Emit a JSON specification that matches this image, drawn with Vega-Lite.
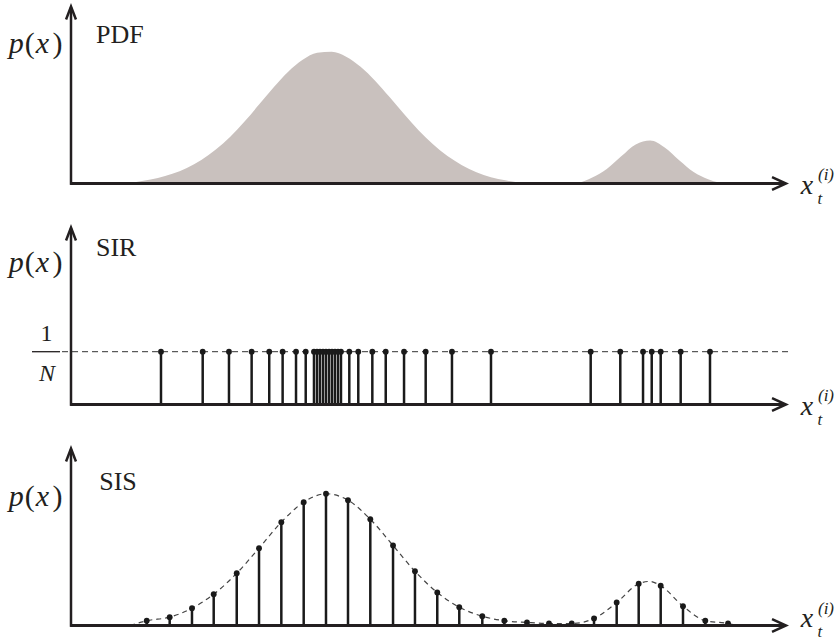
{
  "$schema": "https://vega.github.io/schema/vega-lite/v6.json",
  "padding": 0,
  "background": "white",
  "spacing": 23,
  "bounds": "flush",
  "config": {
    "view": {"stroke": null},
    "axis": {"disable": true},
    "text": {"font": "Liberation Serif, Times New Roman, DejaVu Serif, serif", "color": "#231f20", "align": "center", "baseline": "alphabetic"},
    "point": {"opacity": 1},
    "style": {
      "rm": {"font": "Liberation Serif, Times New Roman, DejaVu Serif, serif", "fontStyle": "normal"},
      "it": {"font": "Liberation Serif, Times New Roman, DejaVu Serif, serif", "fontStyle": "italic"}
    }
  },
  "datasets": {
    "pdf": [
      {"x": 8, "p": 0}, {"x": 10, "p": 0.02}, {"x": 12, "p": 0.042}, {"x": 14, "p": 0.073}, {"x": 16, "p": 0.117},
      {"x": 18, "p": 0.178}, {"x": 20, "p": 0.258}, {"x": 22, "p": 0.355}, {"x": 24, "p": 0.472}, {"x": 26, "p": 0.6},
      {"x": 28, "p": 0.73}, {"x": 30, "p": 0.847}, {"x": 32, "p": 0.937}, {"x": 34, "p": 0.99}, {"x": 36, "p": 0.998},
      {"x": 38, "p": 0.961}, {"x": 40, "p": 0.885}, {"x": 42, "p": 0.779}, {"x": 44, "p": 0.655}, {"x": 46, "p": 0.526},
      {"x": 48, "p": 0.404}, {"x": 50, "p": 0.297}, {"x": 52, "p": 0.208}, {"x": 54, "p": 0.139}, {"x": 56, "p": 0.085},
      {"x": 58, "p": 0.048}, {"x": 60, "p": 0.024}, {"x": 62, "p": 0.006}, {"x": 63, "p": 0}, {"x": 69.5, "p": 0},
      {"x": 71, "p": 0.02}, {"x": 72, "p": 0.045}, {"x": 74, "p": 0.11}, {"x": 76, "p": 0.206}, {"x": 78, "p": 0.296},
      {"x": 80, "p": 0.325}, {"x": 82, "p": 0.273}, {"x": 84, "p": 0.176}, {"x": 86, "p": 0.087}, {"x": 88, "p": 0.033},
      {"x": 89.5, "p": 0.008}, {"x": 91, "p": 0}
    ],
    "sir": [
      {"x": 12.43, "p": 0.4}, {"x": 18.19, "p": 0.4}, {"x": 21.82, "p": 0.4}, {"x": 24.95, "p": 0.4}, {"x": 27.38, "p": 0.4},
      {"x": 29.23, "p": 0.4}, {"x": 31.08, "p": 0.4}, {"x": 32.42, "p": 0.4}, {"x": 33.56, "p": 0.4}, {"x": 33.98, "p": 0.4},
      {"x": 34.39, "p": 0.4}, {"x": 34.81, "p": 0.4}, {"x": 35.22, "p": 0.4}, {"x": 35.64, "p": 0.4}, {"x": 36.05, "p": 0.4},
      {"x": 36.46, "p": 0.4}, {"x": 36.88, "p": 0.4}, {"x": 37.29, "p": 0.4}, {"x": 38.44, "p": 0.4}, {"x": 39.68, "p": 0.4},
      {"x": 41.62, "p": 0.4}, {"x": 43.47, "p": 0.4}, {"x": 46.0, "p": 0.4}, {"x": 48.99, "p": 0.4}, {"x": 52.62, "p": 0.4},
      {"x": 58.01, "p": 0.4}, {"x": 71.78, "p": 0.4}, {"x": 75.87, "p": 0.4}, {"x": 79.01, "p": 0.4}, {"x": 80.21, "p": 0.4},
      {"x": 81.45, "p": 0.4}, {"x": 84.21, "p": 0.4}, {"x": 88.26, "p": 0.4}
    ],
    "sis": [
      {"x": 10.46, "p": 0.036}, {"x": 13.63, "p": 0.063}, {"x": 16.71, "p": 0.131}, {"x": 19.71, "p": 0.237}, {"x": 22.89, "p": 0.396},
      {"x": 25.97, "p": 0.586}, {"x": 29.05, "p": 0.783}, {"x": 32.14, "p": 0.934}, {"x": 35.22, "p": 0.998}, {"x": 38.26, "p": 0.949},
      {"x": 41.34, "p": 0.805}, {"x": 44.48, "p": 0.606}, {"x": 47.51, "p": 0.411}, {"x": 50.59, "p": 0.25}, {"x": 53.63, "p": 0.139},
      {"x": 56.81, "p": 0.07}, {"x": 59.85, "p": 0.036}, {"x": 62.98, "p": 0.023}, {"x": 66.02, "p": 0.015}, {"x": 69.16, "p": 0.015},
      {"x": 72.24, "p": 0.053}, {"x": 75.37, "p": 0.174}, {"x": 78.41, "p": 0.316}, {"x": 81.45, "p": 0.301}, {"x": 84.53, "p": 0.146},
      {"x": 87.61, "p": 0.036}, {"x": 90.75, "p": 0.015}
    ],
    "sisCurve": [
      {"x": 8.15, "p": 0}, {"x": 10.46, "p": 0.036}, {"x": 13.63, "p": 0.063}, {"x": 16.71, "p": 0.131}, {"x": 19.71, "p": 0.237}, {"x": 22.89, "p": 0.396},
      {"x": 25.97, "p": 0.586}, {"x": 29.05, "p": 0.783}, {"x": 32.14, "p": 0.934}, {"x": 35.22, "p": 0.998}, {"x": 38.26, "p": 0.949},
      {"x": 41.34, "p": 0.805}, {"x": 44.48, "p": 0.606}, {"x": 47.51, "p": 0.411}, {"x": 50.59, "p": 0.25}, {"x": 53.63, "p": 0.139},
      {"x": 56.81, "p": 0.07}, {"x": 59.85, "p": 0.036}, {"x": 62.98, "p": 0.023}, {"x": 66.02, "p": 0.015}, {"x": 69.16, "p": 0.015},
      {"x": 72.24, "p": 0.053}, {"x": 75.37, "p": 0.174}, {"x": 78.41, "p": 0.316}, {"x": 79.9, "p": 0.334}, {"x": 81.45, "p": 0.301}, {"x": 84.53, "p": 0.146},
      {"x": 87.61, "p": 0.036}, {"x": 90.75, "p": 0.015}, {"x": 92.0, "p": 0}
    ]
  },
  "vconcat": [
    {
      "width": 839, "height": 198,
      "data": {"values": [{}]},
      "layer": [
        {"data": {"name": "pdf"}, "mark": {"type": "area", "interpolate": "monotone", "color": "#c9c1be"},
         "encoding": {
           "x": {"field": "x", "type": "quantitative", "scale": {"domain": [-9.8066, 106.0773], "nice": false, "zero": false}},
           "y": {"field": "p", "type": "quantitative", "scale": {"domain": [-0.10985, 1.39015], "nice": false, "zero": false}},
           "y2": {"datum": 0}}},
        {"mark": {"type": "rule", "strokeWidth": 3, "color": "#231f20"}, "encoding": {"x": {"datum": -0.1, "type": "quantitative"}, "x2": {"datum": 98.6}, "y": {"datum": 0, "type": "quantitative"}}},
        {"mark": {"type": "rule", "strokeWidth": 2.5, "color": "#231f20"}, "encoding": {"x": {"datum": 0, "type": "quantitative"}, "y": {"datum": -0.01, "type": "quantitative"}, "y2": {"datum": 1.335}}},
        {"mark": {"type": "point", "shape": "M -1 -0.46 L 0 0 L -1 0.46", "size": 784, "filled": false, "stroke": "#231f20", "strokeWidth": 2.5, "strokeJoin": "miter"}, "encoding": {"x": {"datum": 98.76, "type": "quantitative"}, "y": {"datum": 0, "type": "quantitative"}}},
        {"mark": {"type": "point", "shape": "M -0.38 1 L 0 0 L 0.38 1", "size": 676, "filled": false, "stroke": "#231f20", "strokeWidth": 2.5, "strokeJoin": "miter"}, "encoding": {"x": {"datum": 0, "type": "quantitative"}, "y": {"datum": 1.341, "type": "quantitative"}}},
        {"mark": {"type": "text", "text": "p", "fontSize": 30, "style": "it"}, "encoding": {"x": {"datum": -7.57, "type": "quantitative"}, "y": {"datum": 0.985, "type": "quantitative"}}},
        {"mark": {"type": "text", "text": "(", "fontSize": 30, "style": "rm"}, "encoding": {"x": {"datum": -5.7, "type": "quantitative"}, "y": {"datum": 0.985, "type": "quantitative"}}},
        {"mark": {"type": "text", "text": "x", "fontSize": 30, "style": "it"}, "encoding": {"x": {"datum": -3.94, "type": "quantitative"}, "y": {"datum": 0.985, "type": "quantitative"}}},
        {"mark": {"type": "text", "text": ")", "fontSize": 30, "style": "rm"}, "encoding": {"x": {"datum": -1.86, "type": "quantitative"}, "y": {"datum": 0.985, "type": "quantitative"}}},
        {"mark": {"type": "text", "text": "PDF", "fontSize": 26, "align": "left", "style": "rm"}, "encoding": {"x": {"datum": 3.45, "type": "quantitative"}, "y": {"datum": 1.062, "type": "quantitative"}}},
        {"mark": {"type": "text", "text": "x", "fontSize": 28, "style": "it"}, "encoding": {"x": {"datum": 101.66, "type": "quantitative"}, "y": {"datum": -0.0795, "type": "quantitative"}}},
        {"mark": {"type": "text", "text": "(i)", "fontSize": 17, "style": "it"}, "encoding": {"x": {"datum": 104.28, "type": "quantitative"}, "y": {"datum": 0.0265, "type": "quantitative"}}},
        {"mark": {"type": "text", "text": "t", "fontSize": 17, "style": "it"}, "encoding": {"x": {"datum": 103.45, "type": "quantitative"}, "y": {"datum": -0.155, "type": "quantitative"}}}
      ]
    },
    {
      "width": 839, "height": 198,
      "data": {"values": [{}]},
      "layer": [
        {"mark": {"type": "rule", "strokeWidth": 1, "color": "#333333", "strokeDash": [6, 4]},
         "encoding": {
           "x": {"datum": -1.24, "type": "quantitative", "scale": {"domain": [-9.8066, 106.0773], "nice": false, "zero": false}},
           "x2": {"datum": 99.3},
           "y": {"datum": 0.4, "type": "quantitative", "scale": {"domain": [-0.10985, 1.39015], "nice": false, "zero": false}}}},
        {"data": {"name": "sir"}, "mark": {"type": "rule", "strokeWidth": 2.5, "color": "#1a1a1a"},
         "encoding": {"x": {"field": "x", "type": "quantitative"}, "y": {"field": "p", "type": "quantitative"}, "y2": {"datum": 0}}},
        {"data": {"name": "sir"}, "mark": {"type": "point", "filled": true, "size": 34, "color": "#1a1a1a"},
         "encoding": {"x": {"field": "x", "type": "quantitative"}, "y": {"field": "p", "type": "quantitative"}}},
        {"mark": {"type": "rule", "strokeWidth": 3, "color": "#231f20"}, "encoding": {"x": {"datum": -0.1, "type": "quantitative"}, "x2": {"datum": 98.6}, "y": {"datum": 0, "type": "quantitative"}}},
        {"mark": {"type": "rule", "strokeWidth": 2.5, "color": "#231f20"}, "encoding": {"x": {"datum": 0, "type": "quantitative"}, "y": {"datum": -0.01, "type": "quantitative"}, "y2": {"datum": 1.335}}},
        {"mark": {"type": "point", "shape": "M -1 -0.46 L 0 0 L -1 0.46", "size": 784, "filled": false, "stroke": "#231f20", "strokeWidth": 2.5, "strokeJoin": "miter"}, "encoding": {"x": {"datum": 98.76, "type": "quantitative"}, "y": {"datum": 0, "type": "quantitative"}}},
        {"mark": {"type": "point", "shape": "M -0.38 1 L 0 0 L 0.38 1", "size": 676, "filled": false, "stroke": "#231f20", "strokeWidth": 2.5, "strokeJoin": "miter"}, "encoding": {"x": {"datum": 0, "type": "quantitative"}, "y": {"datum": 1.341, "type": "quantitative"}}},
        {"mark": {"type": "text", "text": "p", "fontSize": 30, "style": "it"}, "encoding": {"x": {"datum": -7.57, "type": "quantitative"}, "y": {"datum": 1.006, "type": "quantitative"}}},
        {"mark": {"type": "text", "text": "(", "fontSize": 30, "style": "rm"}, "encoding": {"x": {"datum": -5.7, "type": "quantitative"}, "y": {"datum": 1.006, "type": "quantitative"}}},
        {"mark": {"type": "text", "text": "x", "fontSize": 30, "style": "it"}, "encoding": {"x": {"datum": -3.94, "type": "quantitative"}, "y": {"datum": 1.006, "type": "quantitative"}}},
        {"mark": {"type": "text", "text": ")", "fontSize": 30, "style": "rm"}, "encoding": {"x": {"datum": -1.86, "type": "quantitative"}, "y": {"datum": 1.006, "type": "quantitative"}}},
        {"mark": {"type": "text", "text": "SIR", "fontSize": 26, "align": "left", "style": "rm"}, "encoding": {"x": {"datum": 3.45, "type": "quantitative"}, "y": {"datum": 1.125, "type": "quantitative"}}},
        {"mark": {"type": "text", "text": "1", "fontSize": 24, "style": "rm"}, "encoding": {"x": {"datum": -3.38, "type": "quantitative"}, "y": {"datum": 0.481, "type": "quantitative"}}},
        {"mark": {"type": "rule", "strokeWidth": 1.3, "color": "#231f20"}, "encoding": {"x": {"datum": -5.39, "type": "quantitative"}, "x2": {"datum": -1.52}, "y": {"datum": 0.4, "type": "quantitative"}}},
        {"mark": {"type": "text", "text": "N", "fontSize": 24, "style": "it"}, "encoding": {"x": {"datum": -3.31, "type": "quantitative"}, "y": {"datum": 0.178, "type": "quantitative"}}},
        {"mark": {"type": "text", "text": "x", "fontSize": 28, "style": "it"}, "encoding": {"x": {"datum": 101.66, "type": "quantitative"}, "y": {"datum": -0.0795, "type": "quantitative"}}},
        {"mark": {"type": "text", "text": "(i)", "fontSize": 17, "style": "it"}, "encoding": {"x": {"datum": 104.28, "type": "quantitative"}, "y": {"datum": 0.0265, "type": "quantitative"}}},
        {"mark": {"type": "text", "text": "t", "fontSize": 17, "style": "it"}, "encoding": {"x": {"datum": 103.45, "type": "quantitative"}, "y": {"datum": -0.155, "type": "quantitative"}}}
      ]
    },
    {
      "width": 839, "height": 198,
      "data": {"values": [{}]},
      "layer": [
        {"data": {"name": "sisCurve"}, "mark": {"type": "line", "interpolate": "monotone", "strokeWidth": 1.2, "color": "#444444", "strokeDash": [5, 4]},
         "encoding": {
           "x": {"field": "x", "type": "quantitative", "scale": {"domain": [-9.8066, 106.0773], "nice": false, "zero": false}},
           "y": {"field": "p", "type": "quantitative", "scale": {"domain": [-0.10985, 1.39015], "nice": false, "zero": false}}}},
        {"data": {"name": "sis"}, "mark": {"type": "rule", "strokeWidth": 2.5, "color": "#1a1a1a"},
         "encoding": {"x": {"field": "x", "type": "quantitative"}, "y": {"field": "p", "type": "quantitative"}, "y2": {"datum": 0}}},
        {"data": {"name": "sis"}, "mark": {"type": "point", "filled": true, "size": 34, "color": "#1a1a1a"},
         "encoding": {"x": {"field": "x", "type": "quantitative"}, "y": {"field": "p", "type": "quantitative"}}},
        {"mark": {"type": "rule", "strokeWidth": 3, "color": "#231f20"}, "encoding": {"x": {"datum": -0.1, "type": "quantitative"}, "x2": {"datum": 98.6}, "y": {"datum": 0, "type": "quantitative"}}},
        {"mark": {"type": "rule", "strokeWidth": 2.5, "color": "#231f20"}, "encoding": {"x": {"datum": 0, "type": "quantitative"}, "y": {"datum": -0.01, "type": "quantitative"}, "y2": {"datum": 1.335}}},
        {"mark": {"type": "point", "shape": "M -1 -0.46 L 0 0 L -1 0.46", "size": 784, "filled": false, "stroke": "#231f20", "strokeWidth": 2.5, "strokeJoin": "miter"}, "encoding": {"x": {"datum": 98.76, "type": "quantitative"}, "y": {"datum": 0, "type": "quantitative"}}},
        {"mark": {"type": "point", "shape": "M -0.38 1 L 0 0 L 0.38 1", "size": 676, "filled": false, "stroke": "#231f20", "strokeWidth": 2.5, "strokeJoin": "miter"}, "encoding": {"x": {"datum": 0, "type": "quantitative"}, "y": {"datum": 1.341, "type": "quantitative"}}},
        {"mark": {"type": "text", "text": "p", "fontSize": 30, "style": "it"}, "encoding": {"x": {"datum": -7.57, "type": "quantitative"}, "y": {"datum": 0.905, "type": "quantitative"}}},
        {"mark": {"type": "text", "text": "(", "fontSize": 30, "style": "rm"}, "encoding": {"x": {"datum": -5.7, "type": "quantitative"}, "y": {"datum": 0.905, "type": "quantitative"}}},
        {"mark": {"type": "text", "text": "x", "fontSize": 30, "style": "it"}, "encoding": {"x": {"datum": -3.94, "type": "quantitative"}, "y": {"datum": 0.905, "type": "quantitative"}}},
        {"mark": {"type": "text", "text": ")", "fontSize": 30, "style": "rm"}, "encoding": {"x": {"datum": -1.86, "type": "quantitative"}, "y": {"datum": 0.905, "type": "quantitative"}}},
        {"mark": {"type": "text", "text": "SIS", "fontSize": 26, "align": "left", "style": "rm"}, "encoding": {"x": {"datum": 3.9, "type": "quantitative"}, "y": {"datum": 1.03, "type": "quantitative"}}},
        {"mark": {"type": "text", "text": "x", "fontSize": 28, "style": "it"}, "encoding": {"x": {"datum": 101.66, "type": "quantitative"}, "y": {"datum": -0.015, "type": "quantitative"}}},
        {"mark": {"type": "text", "text": "(i)", "fontSize": 17, "style": "it"}, "encoding": {"x": {"datum": 104.28, "type": "quantitative"}, "y": {"datum": 0.09, "type": "quantitative"}}},
        {"mark": {"type": "text", "text": "t", "fontSize": 17, "style": "it"}, "encoding": {"x": {"datum": 103.45, "type": "quantitative"}, "y": {"datum": -0.09, "type": "quantitative"}}}
      ]
    }
  ]
}
